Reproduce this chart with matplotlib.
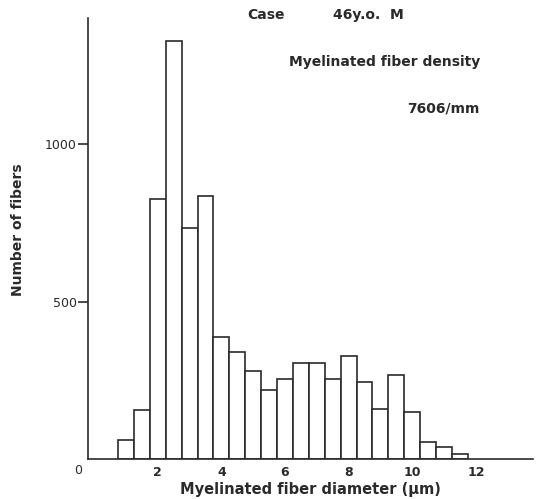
import matplotlib.pyplot as plt
from matplotlib.transforms import ScaledTranslation

# fiber diameter bins (um), bin centres, 0.5 um wide
diameters = [1.0, 1.5, 2.0, 2.5, 3.0, 3.5, 4.0, 4.5, 5.0, 5.5, 6.0,
             6.5, 7.0, 7.5, 8.0, 8.5, 9.0, 9.5, 10.0, 10.5, 11.0, 11.5]
counts = [60, 155, 826, 1327, 734, 835, 387, 341, 280, 218, 253,
          305, 305, 253, 328, 244, 158, 268, 148, 55, 37, 15]

x_ticks = [2, 4, 6, 8, 10, 12]
y_ticks = [0, 500, 1000]

plt.rcParams['font.family'] = ['DejaVu Sans']
ink = '#2a2a2a'

fig = plt.figure(figsize=(5.44, 4.99), dpi=100)
ax = fig.add_axes([0.162, 0.080, 0.818, 0.884])

ax.bar(diameters, counts, width=0.5, facecolor='white', edgecolor=ink,
       linewidth=1.2)

ax.set_xlim(-0.19, 13.8)
ax.set_ylim(0, 1400)

ax.spines['top'].set_visible(False)
ax.spines['right'].set_visible(False)
for s in ('left', 'bottom'):
    ax.spines[s].set_color(ink)
    ax.spines[s].set_linewidth(1.2)

ax.set_xticks(x_ticks)
ax.set_xticklabels([str(t) for t in x_ticks], fontsize=9, fontweight='bold',
                   color=ink)
ax.tick_params(axis='x', length=0, pad=5)

ax.set_yticks(y_ticks)
ax.set_yticklabels([str(t) for t in y_ticks], fontsize=9, color=ink)
ax.tick_params(axis='y', length=7, width=1.2, color=ink, pad=1)
# no tick mark at zero, and its label sits a little lower
ax.yaxis.get_major_ticks()[0].tick1line.set_visible(False)
lbl0 = ax.get_yticklabels()[0]
lbl0.set_transform(lbl0.get_transform() + ScaledTranslation(0.05, -0.1, fig.dpi_scale_trans))

ax.set_xlabel('Myelinated fiber diameter (μm)', fontsize=10.5,
              fontweight='bold', color=ink, labelpad=2)
ax.set_ylabel('Number of fibers', fontsize=10, fontweight='bold', color=ink)
ax.yaxis.set_label_coords(-0.142, 0.519)

fig.text(247 / 544, 1 - 15 / 499, 'Case', fontsize=10, fontweight='bold',
         color=ink, ha='left', va='center')
fig.text(333 / 544, 1 - 15 / 499, '46y.o.  M', fontsize=10,
         fontweight='bold', color=ink, ha='left', va='center')
fig.text(480 / 544, 1 - 62 / 499, 'Myelinated fiber density', fontsize=10,
         fontweight='bold', color=ink, ha='right', va='center')
fig.text(480 / 544, 1 - 108 / 499, '7606/mm', fontsize=10,
         fontweight='bold', color=ink, ha='right', va='center')

fig.savefig('out.png', dpi=100, facecolor='white')
